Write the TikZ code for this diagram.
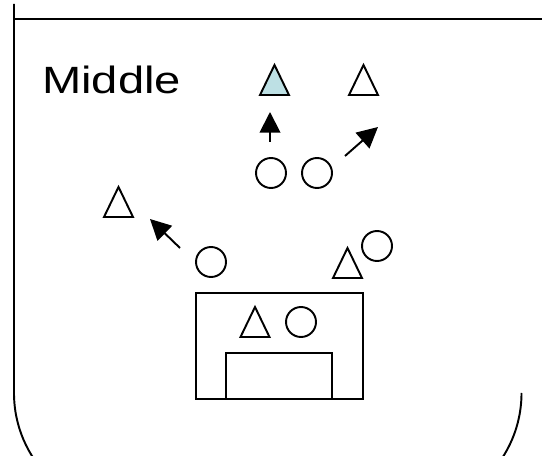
\documentclass[tikz,border=0pt]{standalone}
\usepackage{fontspec}
\setmainfont{Liberation Sans}
\usetikzlibrary{arrows.meta}
\definecolor{tealfill}{RGB}{189,224,228}
\tikzset{
  shapeline/.style={draw=black, line width=1.45pt, outer sep=0pt},
  circ/.style={shapeline, circle, minimum size=22.5pt, inner sep=0pt},
  tri/.pic={\path[shapeline, pic actions] (-14.5,15) -- (0,-15) -- (14.5,15) -- cycle;},
  arr/.style={line width=1.45pt, -{Triangle[length=15.5pt,width=15.5pt]}},
  outline/.style={draw=black, line width=1.45pt},
  label/.style={font=\fontsize{28.5}{32}\selectfont, inner sep=0pt, anchor=base west}
}
\begin{document}
\begin{tikzpicture}[x=0.75pt,y=-0.75pt]
\useasboundingbox (0,0) rectangle (542,456);
\begin{scope}
\clip (0,0) rectangle (542,456);
\draw[outline, rounded corners=89.25pt] (14,4) -- (14,512) -- (521.5,512) -- (521.5,394);
\draw[outline] (14,19) -- (542,19);
\end{scope}
\node[label] (middle) at (42,94) {\scalebox{1.24}[1]{Middle}};
% top triangles
\pic[fill=tealfill] at (274.5,80) {tri};
\pic[fill=white] at (363.5,80) {tri};
% circles
\node[circ] (c1) at (271,173) {};
\node[circ] (c2) at (317,173) {};
\node[circ] (c3) at (211,262) {};
\node[circ] (c4) at (377,246) {};
\node[circ] (c5) at (301,322) {};
% other triangles
\pic at (118.5,202) {tri};
\pic at (347.5,263) {tri};
\pic at (255,322) {tri};
% boxes
\node[shapeline, minimum width=125.25pt, minimum height=79.5pt, inner sep=0pt, anchor=north west] (outer) at (196,293) {};
\node[shapeline, minimum width=79.5pt, minimum height=34.5pt, inner sep=0pt, anchor=south west] (inner) at (226,399) {};
% arrows
\coordinate (a1s) at (270,142); \coordinate (a1e) at (270,112);
\coordinate (a2s) at (345,156); \coordinate (a2e) at (378,127);
\coordinate (a3s) at (180,248); \coordinate (a3e) at (150,219);
\draw[arr] (a1s) -- (a1e);
\draw[arr] (a2s) -- (a2e);
\draw[arr] (a3s) -- (a3e);
\end{tikzpicture}
\end{document}
